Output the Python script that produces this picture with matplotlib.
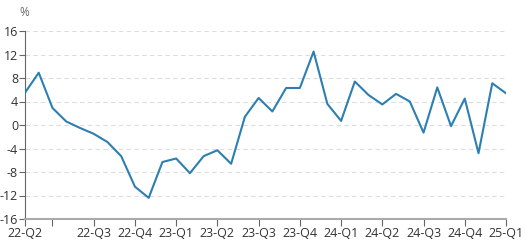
import matplotlib
matplotlib.use("Agg")
import matplotlib.pyplot as plt

values = [5.5, 8.9, 2.9, 0.6, -0.5, -1.5, -2.9, -5.3, -10.5, -12.4, -6.3, -5.7,
          -8.2, -5.3, -4.3, -6.6, 1.4, 4.6, 2.3, 6.3, 6.3, 12.5, 3.6, 0.7,
          7.4, 5.1, 3.5, 5.3, 4.0, -1.3, 6.4, -0.2, 4.5, -4.8, 7.1, 5.4]
tick_pos = [0, 2, 5, 8, 11, 14, 17, 20, 23, 26, 29, 32, 35]
tick_labels = ["22-Q2", "", "22-Q3", "22-Q4", "23-Q1", "23-Q2", "23-Q3", "23-Q4",
               "24-Q1", "24-Q2", "24-Q3", "24-Q4", "25-Q1"]
y_ticks = [16, 12, 8, 4, 0, -4, -8, -12, -16]

plt.rcParams['font.family'] = ['Open Sans', 'DejaVu Sans']

fig = plt.figure(figsize=(5.29, 2.48), dpi=100)
ax = fig.add_axes([25/529, 1 - 219/248, (506 - 25)/529, (219 - 31)/248])

ax.plot(range(len(values)), values, color='#2c7fb0', lw=1.5, zorder=3)
ax.set_xlim(0, len(values) - 1)
ax.set_ylim(-16, 16)
ax.set_yticks(y_ticks)
ax.set_yticklabels([str(v) for v in y_ticks])
ax.set_xticks(tick_pos)
ax.set_xticklabels(tick_labels)

for v in y_ticks[:-1]:
    ax.axhline(v, color='#dddddd', lw=0.8, ls=(0, (4, 3)), zorder=1)

for s in ['top', 'right']:
    ax.spines[s].set_visible(False)
ax.spines['left'].set_color('#666666')
ax.spines['left'].set_linewidth(0.8)
ax.spines['bottom'].set_color('#aaaaaa')
ax.spines['bottom'].set_linewidth(1.5)
ax.spines['bottom'].set_zorder(4)

ax.tick_params(axis='y', length=4, width=0.8, color='#666666', labelsize=9,
               labelcolor='#333333', pad=1)
ax.tick_params(axis='x', length=5, width=0.8, color='#666666', labelsize=9,
               labelcolor='#333333', pad=1)

fig.text(24/529, 1 - 13/248, '%', ha='center', va='center', fontsize=8.5, color='#666666')

fig.savefig('out.png', dpi=100)
